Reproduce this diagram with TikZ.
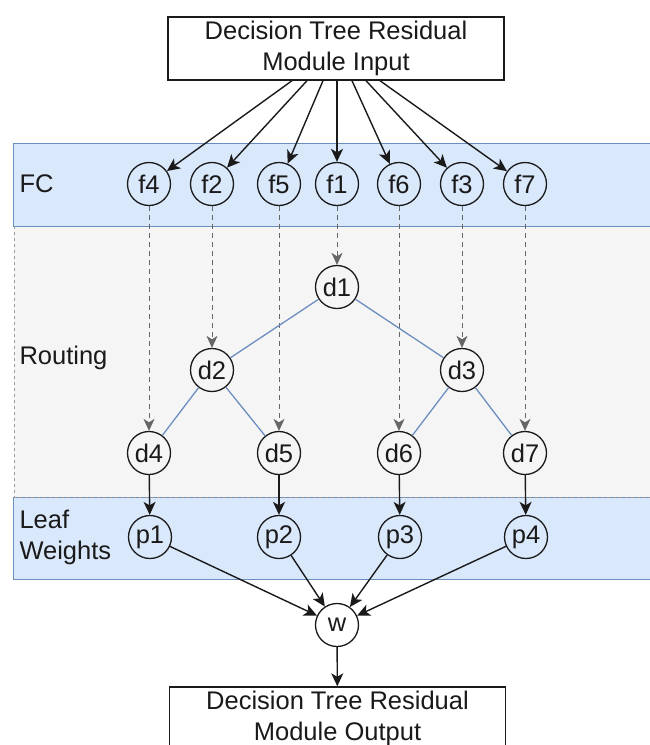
\documentclass[tikz,border=0pt]{standalone}
\usepackage{fontspec}
\setmainfont{Liberation Sans}
\usetikzlibrary{arrows.meta}
\definecolor{bandblue}{HTML}{DAE8FC}
\definecolor{bandedge}{HTML}{6C8EBF}
\definecolor{routefill}{HTML}{F5F5F5}
\definecolor{routeedge}{HTML}{9A9A9A}
\definecolor{feedgray}{HTML}{666666}
\definecolor{ink}{HTML}{1A1A1A}
\begin{document}
\begin{tikzpicture}[x=1pt,y=-1pt,
  font=\fontsize{25.5}{31}\selectfont, text=ink,
  unit/.style={circle, draw=ink, line width=1.3pt, minimum size=43pt, inner sep=0pt},
  iobox/.style={draw=ink, line width=1.4pt, minimum width=336pt, minimum height=63pt,
                inner sep=0pt, align=center, fill=white},
  band/.style={fill=bandblue, draw=bandedge, line width=1pt},
  flow/.style={draw=ink, line width=1.4pt, -{Stealth[length=13pt,width=12pt,inset=3.5pt]}},
  probe/.style={draw=feedgray, line width=1pt, dash pattern=on 5pt off 4pt,
                -{Stealth[length=12pt,width=11pt,inset=3.5pt,fill=feedgray]}},
  branch/.style={draw=bandedge, line width=1.3pt},
  lane/.style={anchor=west, align=left}]
\useasboundingbox (0,0) rectangle (650,745);

% layer bands
\filldraw[band] (13,497) rectangle (680,579);
\filldraw[fill=routefill, draw=routeedge, line width=0.8pt, dash pattern=on 3pt off 3pt]
  (14,226) rectangle (680,497);
\filldraw[band] (13,143) rectangle (680,226);

\node[lane] (lfc) at (16,184) {FC};
\node[lane] (lrt) at (16,358) {Routing};
\node[lane] (llw) at (16,537) {Leaf\\Weights};

% input / output
\node[iobox] (in) at (336,48.5) {Decision Tree Residual\\Module Input};
\node[iobox] (out) at (337.5,718.5) {Decision Tree Residual\\Module Output};

% FC units
\node[unit] (f4) at (149,184) {f4};
\node[unit] (f2) at (212,184) {f2};
\node[unit] (f5) at (279,184) {f5};
\node[unit] (f1) at (337,184) {f1};
\node[unit] (f6) at (399,184) {f6};
\node[unit] (f3) at (462,184) {f3};
\node[unit] (f7) at (525,184) {f7};

% routing tree
\node[unit] (d1) at (337,287) {d1};
\node[unit] (d2) at (212,370) {d2};
\node[unit] (d3) at (462,370) {d3};
\node[unit] (d4) at (149,453) {d4};
\node[unit] (d5) at (279,453) {d5};
\node[unit] (d6) at (399,453) {d6};
\node[unit] (d7) at (525,453) {d7};

% leaf weights and output combiner
\node[unit] (p1) at (150,537) {p1};
\node[unit] (p2) at (279,537) {p2};
\node[unit] (p3) at (400,537) {p3};
\node[unit] (p4) at (526,537) {p4};
\node[unit, fill=white] (w) at (337,625) {w};

% fan-out from the input box
\path (in.south) ++(-44,0) coordinate (o4)
      (in.south) ++(-29,0) coordinate (o2)
      (in.south) ++(-13,0) coordinate (o5)
      (in.south) ++(1,0)   coordinate (o1)
      (in.south) ++(16,0)  coordinate (o6)
      (in.south) ++(30,0)  coordinate (o3)
      (in.south) ++(44,0)  coordinate (o7);
\foreach \k in {4,2,5,1,6,3,7}
  \draw[flow] (o\k) -- (f\k);

% FC outputs feeding the decision nodes
\foreach \k in {1,...,7}
  \draw[probe] (f\k) -- (d\k);

% tree branches
\draw[branch] (d1) -- (d2);
\draw[branch] (d1) -- (d3);
\draw[branch] (d2) -- (d4);
\draw[branch] (d2) -- (d5);
\draw[branch] (d3) -- (d6);
\draw[branch] (d3) -- (d7);

% leaves to weights
\draw[flow] (d4) -- (p1);
\draw[flow] (d5) -- (p2);
\draw[flow] (d6) -- (p3);
\draw[flow] (d7) -- (p4);

% weighted combination
\foreach \k in {1,...,4}
  \draw[flow] (p\k) -- (w);
\draw[flow] (w) -- (out);
\end{tikzpicture}
\end{document}
